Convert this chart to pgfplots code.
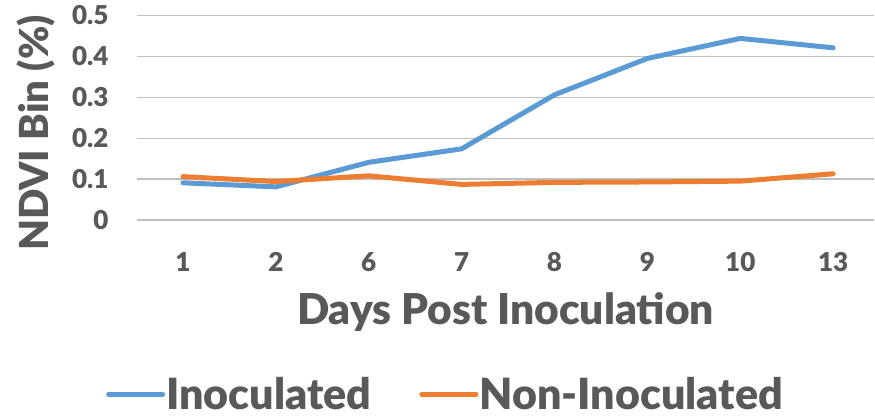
\documentclass[border=0pt]{standalone}
\usepackage{pgfplots}
\pgfplotsset{compat=1.18}
\usepackage{fontspec}
\setmainfont{Lato}[BoldFont={Lato Black}]
\definecolor{txt}{HTML}{595959}
\definecolor{grid}{HTML}{D9D9D9}
\definecolor{cblue}{HTML}{5B9BD5}
\definecolor{corange}{HTML}{ED7D31}
\begin{document}
\begin{tikzpicture}[x=1pt,y=1pt]
\path (0,0) rectangle (875,420);
\begin{axis}[
  at={(137pt,200pt)}, anchor=south west,
  scale only axis, width=737pt, height=204.5pt,
  xmin=-0.495, xmax=7.44, ymin=0, ymax=0.5,
  xtick={0,...,7}, xticklabels={1,2,6,7,8,9,10,13},
  ytick={0,0.1,0.2,0.3,0.4,0.5}, yticklabels={0,0.1,0.2,0.3,0.4,0.5},
  xmajorgrids=false, ymajorgrids, grid style={grid, line width=1.3pt},
  axis line style={draw=none}, major tick length=0pt,
  tick label style={font=\fontsize{26}{26}\selectfont\bfseries, text=txt},
  yticklabel style={anchor=east, xshift=-25pt},
  xticklabel style={anchor=north, yshift=-29pt},
  xlabel={Days Post Inoculation},
  ylabel={NDVI Bin (\%)},
  every axis x label/.style={at={(axis description cs:0.5,0)}, anchor=center, yshift=-92pt, font=\fontsize{42.5}{42.5}\selectfont\bfseries, text=txt},
  every axis y label/.style={at={(axis description cs:-0.1375,0.425)}, rotate=90, anchor=center, font=\fontsize{40}{40}\selectfont\bfseries, text=txt},
  legend columns=2,
  legend style={at={(axis description cs:0.418,-0.852)}, anchor=center, draw=none, fill=none,
    font=\fontsize{43}{43}\selectfont\bfseries, text=txt,
    nodes={inner sep=1pt}, /tikz/every even column/.append style={column sep=47pt}},
  legend image code/.code={\draw[#1, line width=5pt] (0pt,0pt) -- (54pt,0pt);},
]
\addplot[cblue, line width=5pt, line join=round, line cap=round] coordinates {
(0,0.091) (1,0.081) (2,0.141) (3,0.174) (4,0.306) (5,0.395) (6,0.444) (7,0.421)};
\addlegendentry{Inoculated}
\addplot[corange, line width=5pt, line join=round, line cap=round] coordinates {
(0,0.106) (1,0.094) (2,0.108) (3,0.087) (4,0.092) (5,0.093) (6,0.095) (7,0.113)};
\addlegendentry{Non-Inoculated}
\end{axis}
\end{tikzpicture}
\end{document}
